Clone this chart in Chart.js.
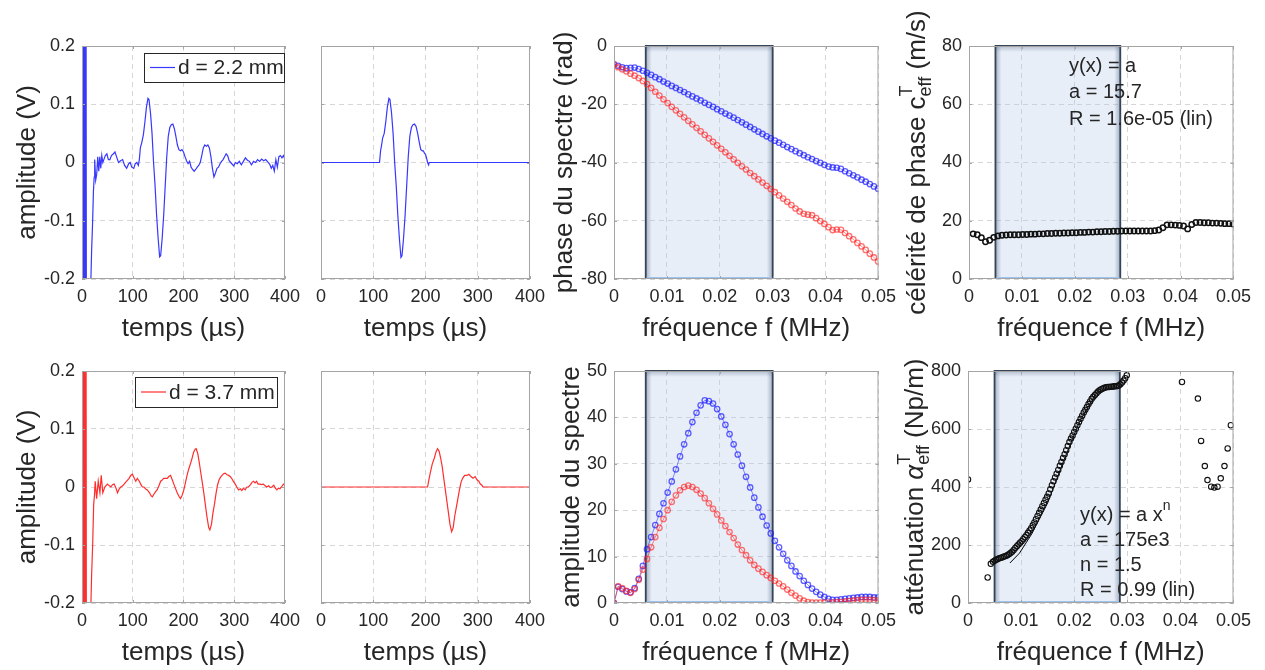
<!DOCTYPE html>
<html>
<head>
<meta charset="utf-8">
<script src="https://cdn.jsdelivr.net/npm/chart.js@4.4.0/dist/chart.umd.min.js"></script>
<style>
  body { margin: 0; background: #fff; width: 1265px; height: 670px; position: relative; overflow: hidden; }
  canvas { position: absolute; }
</style>
</head>
<body>
<canvas id="c1"></canvas><canvas id="c2"></canvas><canvas id="c3"></canvas><canvas id="c4"></canvas>
<canvas id="c5"></canvas><canvas id="c6"></canvas><canvas id="c7"></canvas><canvas id="c8"></canvas>
<script>
// ---- data ----
const timeTicks = [0, 100, 200, 300, 400];
const voltTicks = [-0.2, -0.1, 0, 0.1, 0.2];
const freqTicks = [0, 0.01, 0.02, 0.03, 0.04, 0.05];
const phaseTicks = [-80, -60, -40, -20, 0];
const celTicks = [0, 20, 40, 60, 80];
const specTicks = [0, 10, 20, 30, 40, 50];
const attTicks = [0, 200, 400, 600, 800];

const legendLabels = ['d = 2.2 mm', 'd = 3.7 mm'];

// [time (µs), amplitude (V)]
const sigBlue = [[0,0],[1.5,0.9],[3,-0.9],[4.5,0.9],[6,-0.9],[7.5,0.8],[9,-0.7],[11,-0.5],[14,-0.35],[17,-0.22],[19,-0.15],[21,-0.1],[22.5,-0.05],[24,-0.025],[25,0.005],[27,-0.03],[29,-0.02],[31,0.01],[33,-0.015],[35,0.01],[37,-0.01],[39,0.012],[41,0],[43,0.005],[46,0.012],[49,0.015],[52,0.005],[55,0.005],[58,0.012],[62,0.015],[65,0.018],[68,0.01],[72,0],[76,0.003],[80,0.005],[84,-0.005],[88,-0.01],[92,-0.002],[95,0],[98,-0.008],[102,-0.01],[105,-0.002],[108,0],[111,-0.005],[113,0.005],[115,0.025],[118,0.035],[121,0.048],[124,0.07],[127,0.095],[130,0.11],[132,0.108],[135,0.085],[138,0.05],[141,0],[144,-0.04],[147,-0.09],[150,-0.13],[153,-0.162],[155,-0.16],[158,-0.13],[161,-0.09],[164,-0.04],[167,0.01],[170,0.045],[173,0.06],[176,0.065],[179,0.066],[182,0.058],[185,0.045],[188,0.03],[191,0.022],[194,0.02],[197,0.022],[200,0.018],[203,0.01],[206,0.003],[209,-0.002],[212,0.002],[215,-0.008],[218,-0.012],[221,-0.015],[224,-0.012],[227,-0.008],[230,-0.005],[233,0],[236,0.012],[239,0.025],[242,0.03],[245,0.028],[248,0.03],[251,0.025],[254,0.01],[257,-0.01],[260,-0.025],[263,-0.018],[266,-0.01],[269,-0.008],[272,-0.002],[275,0.002],[278,0.005],[281,0.01],[284,0.015],[287,0.012],[290,0.003],[293,0],[296,-0.003],[299,-0.006],[302,0],[306,-0.002],[310,0.002],[314,-0.004],[318,0.002],[322,0.008],[326,0.004],[330,0.002],[334,-0.004],[338,0.002],[342,0],[346,0.005],[350,0.002],[354,0.006],[358,0.003],[362,0.005],[366,0.001],[370,-0.003],[373,-0.01],[376,-0.005],[379,-0.015],[382,0.005],[385,-0.008],[388,0.01],[391,0.012],[394,0.008],[397,0.012],[400,0.005]];

const winBlue = [[0,0],[112,0],[114,0.02],[116,0.03],[118,0.042],[121,0.05],[124,0.07],[127,0.095],[130,0.11],[132,0.108],[135,0.085],[138,0.05],[141,0],[144,-0.04],[147,-0.09],[150,-0.13],[153,-0.163],[155,-0.16],[158,-0.13],[161,-0.09],[164,-0.04],[167,0.01],[170,0.045],[173,0.06],[176,0.065],[179,0.066],[182,0.062],[185,0.05],[188,0.035],[191,0.022],[194,0.02],[196,0.02],[198,0.016],[200,0.014],[202,0.008],[204,0],[206,-0.004],[207,0],[400,0]];

const sigRed = [[0,0],[1.5,0.9],[3,-0.9],[4.5,0.9],[6,-0.9],[7.5,0.8],[9,-0.7],[11,-0.6],[13,-0.4],[15,-0.3],[17.6,-0.2],[19,-0.15],[21,-0.1],[23,-0.03],[24.5,-0.015],[26,0.01],[28.8,-0.02],[32,0.01],[35.3,-0.01],[37.9,0.02],[41,-0.01],[45,0],[50,0.005],[54,0.002],[57,0],[60,0.004],[63.4,0.005],[67,-0.002],[70,-0.01],[73,-0.004],[76.5,0],[80,0.002],[83,0.005],[88,0.01],[92.8,0.015],[96,0.02],[99.3,0.022],[103,0.015],[106,0.01],[109,0.015],[113,0.01],[115.7,0.005],[119,0],[122,0],[126,-0.004],[128.8,-0.005],[133,-0.01],[136,-0.015],[138.6,-0.017],[142,-0.012],[145,-0.008],[148,-0.005],[152,0.003],[155,0.01],[158,0.012],[161,0.015],[165,0.015],[168,0.015],[171,0.018],[174.5,0.02],[178,0.012],[181,0.005],[184,-0.002],[187.6,-0.01],[191,-0.016],[194,-0.02],[197,-0.015],[200.7,-0.005],[204,0.008],[207,0.02],[210,0.03],[213.7,0.04],[217,0.05],[220,0.06],[223,0.065],[225,0.066],[228,0.058],[231,0.043],[234,0.025],[237,0.008],[240,-0.01],[243,-0.03],[246,-0.05],[249.7,-0.07],[252,-0.074],[255,-0.065],[258,-0.045],[261,-0.03],[264,-0.012],[267,0.003],[270,0.012],[273,0.017],[276,0.02],[279,0.023],[282,0.024],[286,0.021],[289,0.02],[292,0.018],[295,0.015],[298,0.01],[302,0.005],[305,0],[308.5,-0.005],[312,-0.003],[315,-0.006],[318,-0.002],[321.6,-0.005],[325,0],[328,0],[332,0.004],[335,0.008],[338,0.01],[341,0.007],[344,0.01],[347,0.005],[351,0.005],[354,0.004],[357.5,0.005],[361,0.002],[364,0],[368,0.002],[371,-0.001],[374,0],[378,0.003],[381,-0.002],[384,-0.005],[387,-0.002],[390,-0.003],[393,0],[397,0.005],[400,0.003]];

const winRed = [[0,0],[204,0],[207,0.015],[210,0.028],[213,0.04],[217,0.05],[220,0.06],[223,0.066],[226,0.062],[229,0.05],[232,0.035],[235,0.015],[238,-0.005],[241,-0.025],[244,-0.045],[247,-0.065],[250,-0.077],[253,-0.07],[256,-0.05],[259,-0.035],[262,-0.02],[265,-0.005],[268,0.008],[271,0.015],[275,0.02],[279,0.02],[283,0.022],[287,0.018],[291,0.015],[295,0.018],[299,0.012],[302,0.01],[305,0.005],[308,0.003],[310,0],[400,0]];

// frequency grid (MHz) shared by the spectra
const freq = [0, 0.00078, 0.00156, 0.00234, 0.00312, 0.0039, 0.00468, 0.00546, 0.00624, 0.00702,
  0.0078, 0.00858, 0.00936, 0.01014, 0.01092, 0.0117, 0.01248, 0.01326, 0.01404, 0.01482,
  0.0156, 0.01638, 0.01716, 0.01794, 0.01872, 0.0195, 0.02028, 0.02106, 0.02184, 0.02262,
  0.0234, 0.02418, 0.02496, 0.02574, 0.02652, 0.0273, 0.02808, 0.02886, 0.02964, 0.03042,
  0.0312, 0.03198, 0.03276, 0.03354, 0.03432, 0.0351, 0.03588, 0.03666, 0.03744, 0.03822,
  0.039, 0.03978, 0.04056, 0.04134, 0.04212, 0.0429, 0.04368, 0.04446, 0.04524, 0.04602,
  0.0468, 0.04758, 0.04836, 0.04914, 0.04992];

const phaseBlue = [-6.3, -6.8, -7.3, -7.6, -7.5, -7.4, -7.9, -8.5, -9.2, -9.9,
  -10.7, -11.4, -12.2, -12.9, -13.7, -14.4, -15.1, -15.8, -16.6, -17.3,
  -18.0, -18.7, -19.5, -20.2, -20.9, -21.7, -22.4, -23.2, -23.9, -24.6,
  -25.4, -26.2, -27.0, -27.8, -28.6, -29.4, -30.2, -31.0, -31.7, -32.5,
  -33.2, -33.9, -34.7, -35.4, -36.1, -36.8, -37.5, -38.2, -38.8, -39.5,
  -40.1, -40.8, -41.4, -41.7, -41.8, -42.2, -43.0, -43.7, -44.4, -45.1,
  -45.9, -46.6, -47.4, -48.2, -49.0];

const phaseRed = [-6.3, -7.3, -8.0, -8.7, -9.5, -10.2, -11.0, -12.0, -13.1, -14.4,
  -15.7, -17.0, -18.3, -19.6, -20.9, -22.1, -23.3, -24.5, -25.7, -26.9,
  -28.1, -29.3, -30.5, -31.7, -32.9, -34.1, -35.3, -36.5, -37.7, -38.9,
  -40.1, -41.3, -42.4, -43.6, -44.7, -45.8, -46.9, -48.0, -49.1, -50.2,
  -51.3, -52.4, -53.5, -54.6, -55.8, -56.8, -57.6, -57.9, -58.1, -59.1,
  -60.1, -61.1, -62.2, -63.2, -63.0, -63.1, -64.2, -65.3, -66.4, -67.6,
  -68.8, -70.0, -71.3, -72.6, -74.0];

const ampBlue = [0, 3.5, 3.0, 2.5, 2.3, 3.2, 5.2, 8.0, 11.6, 14.2,
  16.8, 19.2, 21.5, 23.8, 26.2, 28.8, 31.6, 34.2, 36.6, 39.0,
  41.0, 42.6, 43.7, 43.5, 43.0, 41.8, 40.2, 38.4, 36.4, 34.2,
  32.0, 29.6, 27.2, 24.9, 22.7, 20.6, 18.6, 16.7, 15.0, 13.4,
  12.0, 10.6, 9.2, 8.0, 6.8, 5.8, 4.8, 3.9, 3.1, 2.4,
  1.8, 1.3, 0.9, 0.7, 0.7, 0.8, 0.9, 1.0, 1.1, 1.2,
  1.3, 1.3, 1.3, 1.2, 1.2];

const ampRed = [0, 3.6, 3.2, 2.6, 2.2, 3.0, 5.0, 7.2, 9.5, 12.0,
  14.2, 16.2, 18.1, 20.0, 21.8, 23.2, 24.3, 25.0, 25.3, 25.0,
  24.4, 23.6, 22.6, 21.5, 20.3, 19.1, 17.8, 16.6, 15.3, 14.0,
  12.6, 11.4, 10.3, 9.2, 8.2, 7.4, 6.7, 6.0, 5.4, 4.8,
  4.2, 3.6, 2.9, 2.2, 1.6, 1.0, 0.5, 0.2, 0.1, 0.1,
  0.1, 0.1, 0.1, 0.1, 0.2, 0.2, 0.3, 0.4, 0.5, 0.6,
  0.7, 0.7, 0.7, 0.6, 0.5];

const celerite = [null, 15.5, 15.2, 14.2, 12.8, 13.3, 14.3, 14.8, 15.0, 15.1,
  15.2, 15.2, 15.2, 15.3, 15.3, 15.4, 15.4, 15.5, 15.5, 15.6,
  15.6, 15.7, 15.7, 15.8, 15.8, 15.9, 15.9, 16.0, 16.0, 16.1,
  16.1, 16.2, 16.2, 16.3, 16.3, 16.4, 16.4, 16.5, 16.5, 16.5,
  16.5, 16.5, 16.5, 16.5, 16.5, 16.6, 16.8, 17.6, 18.6, 18.6,
  18.5, 18.4, 18.2, 17.2, 18.7, 19.4, 19.4, 19.3, 19.3, 19.2,
  19.2, 19.1, 19.0, 19.0, 18.9];

// attenuation uses its own (finer) frequency sampling
const attFreq = [0, 0.0037, 0.0043,
  0.0047, 0.005, 0.0053, 0.0056, 0.0059, 0.0062, 0.0065, 0.0068, 0.0071, 0.0074,
  0.0077, 0.008, 0.0083, 0.0086, 0.0089, 0.0092, 0.0095, 0.0098, 0.0101, 0.0104,
  0.0107, 0.011, 0.0113, 0.0116, 0.0119, 0.0122, 0.0125, 0.0128, 0.0131, 0.0134,
  0.0137, 0.014, 0.0143, 0.0146, 0.0149, 0.0152, 0.0155, 0.0158, 0.0161, 0.0164,
  0.0167, 0.017, 0.0173, 0.0176, 0.0179, 0.0182, 0.0185, 0.0188, 0.0191, 0.0194,
  0.0197, 0.02, 0.0203, 0.0206, 0.0209, 0.0212, 0.0215, 0.0218, 0.0221, 0.0224,
  0.0227, 0.023, 0.0233, 0.0236, 0.0239, 0.0242, 0.0245, 0.0248, 0.0251, 0.0254,
  0.0257, 0.026, 0.0263, 0.0266, 0.0269, 0.0272, 0.0275, 0.0278, 0.0281, 0.0284,
  0.0287, 0.029, 0.0293, 0.0296, 0.0299,
  0.0403, 0.0433, 0.0439, 0.0446, 0.0451, 0.0458, 0.0464, 0.047, 0.0476, 0.0483, 0.0489, 0.0495];
const attenuation = [426, 88, 135,
  142, 146, 149, 152, 154, 156, 158, 160, 162, 165,
  168, 172, 177, 183, 190, 196, 202, 208, 213, 220,
  227, 234, 242, 250, 258, 268, 278, 289, 300, 311,
  322, 334, 345, 356, 366, 378, 392, 406, 420, 433,
  446, 459, 473, 486, 500, 513, 527, 541, 555, 567,
  578, 590, 601, 613, 624, 635, 646, 657, 666, 676,
  686, 695, 704, 711, 717, 723, 729, 734, 737, 740,
  742, 744, 745, 745, 746, 746, 747, 747, 748, 750,
  754, 760, 767, 775, 785,
  762, 705, 559, 472, 424, 401, 398, 401, 430, 472, 533, 613];

// power-law fit curve, as seen under the markers
const attFitFreq = [0.0079, 0.0097, 0.012, 0.015, 0.018, 0.021, 0.024];
const attFitVal = [138, 172, 238, 345, 490, 625, 718];

// frequency band used for the fits (MHz)
const bandPhase = [0.006, 0.030];
const bandFit = [0.005, 0.0286];

const notesCel = ['y(x) = a', 'a = 15.7', 'R = 1.6e-05 (lin)'];
const notesAtt = ['y(x) = a x', 'n', 'a = 175e3', 'n = 1.5', 'R = 0.99 (lin)'];

// ---- drawing ----
const FAM = '"Liberation Sans", Arial, Helvetica, sans-serif';
const TXT = '#262626';
const BLUE = 'rgb(55,55,255)';
const RED = 'rgb(255,45,45)';
Chart.defaults.font.family = FAM;

const Y_W = 80, X_H = 66, PAD_T = 46, PAD_R = 22;

const pairs = arr => arr.map(p => ({x: p[0], y: p[1]}));
const zip = (xs, ys) => xs.map((x, i) => ({x: x, y: ys[i]}));

function drawRich(ctx, parts, x, y, size, rotate, center) {
  const small = Math.round(size * 0.7);
  const fontN = it => (it ? 'italic ' : '') + size + 'px ' + FAM;
  const fontS = small + 'px ' + FAM;
  let total = 0;
  const widths = parts.map(p => {
    let w;
    if (p.t !== undefined) { ctx.font = fontN(p.it); w = ctx.measureText(p.t).width; }
    else {
      ctx.font = fontS;
      w = Math.max(p.sub ? ctx.measureText(p.sub).width : 0, p.sup ? ctx.measureText(p.sup).width : 0);
    }
    total += w;
    return w;
  });
  ctx.save();
  ctx.translate(x, y);
  if (rotate) ctx.rotate(-Math.PI / 2);
  ctx.fillStyle = TXT;
  ctx.textAlign = 'left';
  ctx.textBaseline = 'middle';
  let cx = center ? -total / 2 : 0;
  parts.forEach((p, i) => {
    if (p.t !== undefined) { ctx.font = fontN(p.it); ctx.fillText(p.t, cx, 0); }
    else {
      ctx.font = fontS;
      if (p.sub) ctx.fillText(p.sub, cx, size * 0.3);
      if (p.sup) ctx.fillText(p.sup, cx, -size * 0.42);
    }
    cx += widths[i];
  });
  ctx.restore();
}

function panelPlugin(o) {
  return {
    id: 'panel',
    beforeDatasetsDraw(chart) {
      if (!o.band) return;
      const a = chart.chartArea, ctx = chart.ctx, xs = chart.scales.x;
      const x0 = xs.getPixelForValue(o.band[0]), x1 = xs.getPixelForValue(o.band[1]);
      const h = a.bottom - a.top;
      ctx.save();
      ctx.fillStyle = 'rgba(180,202,232,0.32)';
      ctx.fillRect(x0, a.top, x1 - x0, h);
      let g = ctx.createLinearGradient(x0, 0, x0 + 6, 0);
      g.addColorStop(0, 'rgba(60,80,110,0.4)'); g.addColorStop(1, 'rgba(60,80,110,0)');
      ctx.fillStyle = g; ctx.fillRect(x0, a.top, 6, h);
      g = ctx.createLinearGradient(x1, 0, x1 - 6, 0);
      g.addColorStop(0, 'rgba(60,80,110,0.4)'); g.addColorStop(1, 'rgba(60,80,110,0)');
      ctx.fillStyle = g; ctx.fillRect(x1 - 6, a.top, 6, h);
      g = ctx.createLinearGradient(0, a.top, 0, a.top + 6);
      g.addColorStop(0, 'rgba(60,80,110,0.3)'); g.addColorStop(1, 'rgba(60,80,110,0)');
      ctx.fillStyle = g; ctx.fillRect(x0, a.top, x1 - x0, 6);
      ctx.strokeStyle = '#34455a'; ctx.lineWidth = 1.8;
      ctx.beginPath();
      ctx.moveTo(x0, a.bottom); ctx.lineTo(x0, a.top); ctx.lineTo(x1, a.top); ctx.lineTo(x1, a.bottom);
      ctx.stroke();
      ctx.strokeStyle = '#9cc4ee'; ctx.lineWidth = 2;
      ctx.beginPath(); ctx.moveTo(x0 + 1, a.bottom - 1); ctx.lineTo(x1 - 1, a.bottom - 1); ctx.stroke();
      ctx.restore();
    },
    afterDraw(chart) {
      const a = chart.chartArea, ctx = chart.ctx, xs = chart.scales.x, ys = chart.scales.y;
      ctx.save();
      // axes box with inward ticks
      ctx.strokeStyle = '#a4a4a4'; ctx.lineWidth = 1;
      ctx.strokeRect(a.left + 0.5, a.top + 0.5, a.right - a.left - 1, a.bottom - a.top - 1);
      ctx.beginPath();
      xs.ticks.forEach(tk => {
        const x = Math.round(xs.getPixelForValue(tk.value)) + 0.5;
        ctx.moveTo(x, a.bottom); ctx.lineTo(x, a.bottom - 3);
        ctx.moveTo(x, a.top); ctx.lineTo(x, a.top + 3);
      });
      ys.ticks.forEach(tk => {
        const y = Math.round(ys.getPixelForValue(tk.value)) + 0.5;
        ctx.moveTo(a.left, y); ctx.lineTo(a.left + 3, y);
        ctx.moveTo(a.right, y); ctx.lineTo(a.right - 3, y);
      });
      ctx.stroke();

      // legend box
      if (o.legend) {
        const L = o.legend, lx = a.left + L.dx, ly = a.top + L.dy;
        ctx.fillStyle = '#fff'; ctx.fillRect(lx, ly, L.w, L.h);
        ctx.strokeStyle = TXT; ctx.lineWidth = 1;
        ctx.strokeRect(lx + 0.5, ly + 0.5, L.w, L.h);
        ctx.strokeStyle = L.color; ctx.lineWidth = 1.2;
        ctx.beginPath(); ctx.moveTo(lx + 6, ly + L.h / 2); ctx.lineTo(lx + 31, ly + L.h / 2); ctx.stroke();
        ctx.fillStyle = TXT; ctx.font = '21px ' + FAM; ctx.textAlign = 'left'; ctx.textBaseline = 'middle';
        ctx.fillText(L.label, lx + 34, ly + L.h / 2 + 1);
      }

      // fit annotations
      if (o.notes) {
        o.notes.lines.forEach((parts, i) => {
          drawRich(ctx, parts, a.left + o.notes.dx, a.top + o.notes.dy + i * o.notes.gap, 20, false, false);
        });
      }

      // axis titles
      ctx.fillStyle = TXT; ctx.font = '26px ' + FAM; ctx.textAlign = 'center'; ctx.textBaseline = 'middle';
      ctx.fillText(o.xTitle, (a.left + a.right) / 2, a.bottom + 50);
      if (o.yTitle) drawRich(ctx, o.yTitle, a.left + o.yOff, (a.top + a.bottom) / 2, 26, true, true);
      ctx.restore();
    }
  };
}

function axis(range, ticks, show, size) {
  return {
    type: 'linear', min: range[0], max: range[1],
    afterBuildTicks: s => { s.ticks = ticks.map(v => ({value: v})); },
    afterFit: s => { if (s.isHorizontal()) s.height = size; else s.width = size; },
    ticks: {display: show, color: TXT, font: {size: 18}, padding: 7, maxRotation: 0, callback: v => String(v)},
    grid: {color: '#d6d6d6', lineWidth: 1, drawTicks: false},
    border: {display: false, dash: [5, 4]}
  };
}

function makeChart(id, box, o) {
  const [l, t, r, b] = box;
  const w = r - l + Y_W + PAD_R, h = b - t + PAD_T + X_H;
  const cv = document.getElementById(id);
  cv.width = w; cv.height = h;
  cv.style.left = (l - Y_W) + 'px'; cv.style.top = (t - PAD_T) + 'px';
  cv.style.width = w + 'px'; cv.style.height = h + 'px';
  return new Chart(cv, {
    type: 'scatter',
    data: {datasets: o.datasets},
    options: {
      responsive: false, animation: false, devicePixelRatio: 1,
      layout: {padding: {left: 0, top: PAD_T, right: PAD_R, bottom: 0}},
      plugins: {legend: {display: false}, tooltip: {enabled: false}},
      scales: {
        x: axis(o.xr, o.xt, true, X_H),
        y: axis(o.yr, o.yt, o.yLabels !== false, Y_W)
      }
    },
    plugins: [panelPlugin(o)]
  });
}

const trace = (data, color) => ({data: data, showLine: true, borderColor: color, borderWidth: 1.2, pointRadius: 0, tension: 0});
const markers = (data, line, pt) => ({data: data, showLine: true, borderColor: line, borderWidth: 0.9,
  pointRadius: 2.7, pointBorderWidth: 1.3, pointBorderColor: pt, pointBackgroundColor: 'rgba(0,0,0,0)'});
const blackDots = (data, bw) => ({data: data, showLine: false, pointRadius: 2.7, pointBorderWidth: bw,
  pointBorderColor: '#111', pointBackgroundColor: 'rgba(0,0,0,0)'});

const tTitle = 'temps (µs)', fTitle = 'fréquence f (MHz)';

makeChart('c1', [82, 46, 285, 279], {
  xr: [0, 400], xt: timeTicks, yr: [-0.2, 0.2], yt: voltTicks,
  datasets: [trace(pairs(sigBlue), BLUE)],
  legend: {dx: 62, dy: 7, w: 140, h: 29, label: legendLabels[0], color: BLUE},
  xTitle: tTitle, yTitle: [{t: 'amplitude (V)'}], yOff: -54
});
makeChart('c2', [321, 46, 530, 279], {
  xr: [0, 400], xt: timeTicks, yr: [-0.2, 0.2], yt: voltTicks, yLabels: false,
  datasets: [trace(pairs(winBlue), BLUE)], xTitle: tTitle
});
makeChart('c3', [614, 46, 881, 279], {
  xr: [0, 0.05], xt: freqTicks, yr: [-80, 0], yt: phaseTicks, band: bandPhase,
  datasets: [markers(zip(freq, phaseRed), 'rgba(255,0,0,0.5)', 'rgba(255,40,40,0.65)'),
             markers(zip(freq, phaseBlue), 'rgba(0,0,255,0.5)', 'rgba(30,30,255,0.7)')],
  xTitle: fTitle, yTitle: [{t: 'phase du spectre (rad)'}], yOff: -49
});
makeChart('c4', [969, 46, 1236, 279], {
  xr: [0, 0.05], xt: freqTicks, yr: [0, 80], yt: celTicks, band: bandFit,
  datasets: [blackDots(zip(freq, celerite), 1.5)],
  notes: {dx: 100, dy: 20, gap: 26.5, lines: notesCel.map(s => [{t: s}])},
  xTitle: fTitle, yOff: -51,
  yTitle: [{t: 'célérité de phase c'}, {sub: 'eff', sup: 'T'}, {t: ' (m/s)'}]
});
makeChart('c5', [82, 371, 285, 603], {
  xr: [0, 400], xt: timeTicks, yr: [-0.2, 0.2], yt: voltTicks,
  datasets: [trace(pairs(sigRed), RED)],
  legend: {dx: 53, dy: 6, w: 142, h: 30, label: legendLabels[1], color: RED},
  xTitle: tTitle, yTitle: [{t: 'amplitude (V)'}], yOff: -54
});
makeChart('c6', [321, 371, 530, 603], {
  xr: [0, 400], xt: timeTicks, yr: [-0.2, 0.2], yt: voltTicks, yLabels: false,
  datasets: [trace(pairs(winRed), RED)], xTitle: tTitle
});
makeChart('c7', [614, 371, 881, 603], {
  xr: [0, 0.05], xt: freqTicks, yr: [0, 50], yt: specTicks, band: bandPhase,
  datasets: [markers(zip(freq, ampRed), 'rgba(255,0,0,0.5)', 'rgba(255,40,40,0.65)'),
             markers(zip(freq, ampBlue), 'rgba(0,0,255,0.5)', 'rgba(30,30,255,0.7)')],
  xTitle: fTitle, yTitle: [{t: 'amplitude du spectre'}], yOff: -42
});
makeChart('c8', [968, 371, 1236, 603], {
  xr: [0, 0.05], xt: freqTicks, yr: [0, 800], yt: attTicks, band: bandFit,
  datasets: [blackDots(zip(attFreq, attenuation), 1.1),
             {data: zip(attFitFreq, attFitVal), showLine: true, borderColor: '#000', borderWidth: 1, pointRadius: 0}],
  notes: {dx: 112, dy: 144, gap: 25, lines: [
    [{t: notesAtt[0]}, {sup: notesAtt[1]}], [{t: notesAtt[2]}], [{t: notesAtt[3]}], [{t: notesAtt[4]}]]},
  xTitle: fTitle, yOff: -52,
  yTitle: [{t: 'atténuation '}, {t: 'α', it: true}, {sub: 'eff', sup: 'T'}, {t: ' (Np/m)'}]
});
</script>
</body>
</html>
